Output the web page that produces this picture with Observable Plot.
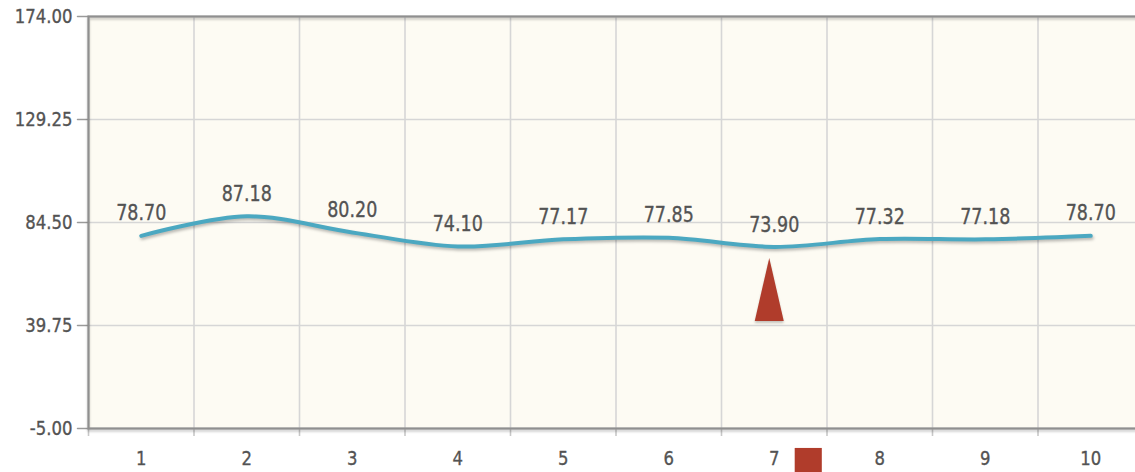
<!DOCTYPE html>
<html>
<head>
<meta charset="utf-8">
<script src="https://cdn.jsdelivr.net/npm/d3@7"></script>
<script src="https://cdn.jsdelivr.net/npm/@observablehq/plot@0.6"></script>
<style>
  html, body { margin: 0; padding: 0; background: #ffffff; overflow: hidden; }
  #chart svg { display: block; overflow: visible; max-width: none !important; }
  .shadow { filter: drop-shadow(1px 2px 1.5px rgba(0,0,0,0.28)); }
  .soft { filter: drop-shadow(0px 2px 1px rgba(0,0,0,0.22)); }
</style>
</head>
<body>
<div id="chart"></div>
<script>
// Readings per period
const periods = [1, 2, 3, 4, 5, 6, 7, 8, 9, 10];
const values = [78.70, 87.18, 80.20, 74.10, 77.17, 77.85, 73.90, 77.32, 77.18, 78.70];

// Y axis tick values
const yTicks = [-5.00, 39.75, 84.50, 129.25, 174.00];

// Period marked by the pointer and the square under the axis
const markedPeriod = [7];

const rows = periods.map((p, i) => ({period: p, value: values[i]}));
const marked = rows.filter(d => markedPeriod.includes(d.period));
const bandEdges = d3.range(periods.length + 1).map(i => periods[0] - 0.5 + i);

const lineColor = "#4ba8c1";
const markColor = "#b03c2b";
const textColor = "#535353";

// A tall, narrow pointer drawn from its base up to its tip
const spike = {
  draw(context, l, r) {
    context.moveTo(-r, 0);
    context.lineTo(0, -l);
    context.lineTo(r, 0);
    context.closePath();
  }
};

const axisText = {fill: textColor, textStroke: textColor, textStrokeWidth: 0.3, textStrokeOpacity: 1};

const chart = Plot.plot({
  width: 1143,
  height: 472,
  marginTop: 16,
  marginLeft: 88,
  marginRight: 0,
  marginBottom: 44,
  style: {fontFamily: "DejaVu Sans, Verdana, sans-serif", fontSize: "16px", color: textColor, background: "#ffffff", maxWidth: "none"},
  x: {type: "linear", domain: [periods[0] - 0.5, periods[periods.length - 1] + 0.5]},
  y: {domain: [yTicks[0], yTicks[yTicks.length - 1]]},
  marks: [
    Plot.frame({fill: "#fdfbf3", stroke: "none"}),
    Plot.gridY(yTicks, {stroke: "#d6d6d6", strokeOpacity: 1, strokeWidth: 1.6}),
    Plot.gridX(bandEdges.slice(1, -1), {stroke: "#d6d6d6", strokeOpacity: 1, strokeWidth: 1.6}),
    // y axis: short tick marks pointing left from the axis line, then labels
    Plot.vector(yTicks, {x: () => bandEdges[0], y: d => d, rotate: -90, length: 11, anchor: "start", shape: "spike", r: 0, stroke: "#9a9a9a", strokeWidth: 1.5}),
    Plot.axisY({ticks: yTicks, tickFormat: d => d.toFixed(2), tickSize: 0, tickPadding: 16, fontSize: 16.5, label: null, ...axisText}),
    // x axis: tick marks at period boundaries, labels at period centres
    Plot.axisX({ticks: bandEdges.slice(0, -1), tickFormat: () => "", tickSize: 8, stroke: "#c8c8c8", strokeWidth: 1.6, label: null}),
    Plot.axisX({ticks: periods, tickFormat: d => String(d), tickSize: 0, tickPadding: 23, fontSize: 16.5, label: null, ...axisText}),
    Plot.frame({stroke: "#8f8f8f", strokeWidth: 2.2, className: "soft"}),
    Plot.line(rows, {x: "period", y: "value", curve: "catmull-rom", stroke: lineColor, strokeWidth: 4, className: "shadow"}),
    Plot.text(rows, {x: "period", y: "value", text: d => d.value.toFixed(2), dy: -22, fontSize: 17.5, fill: textColor, stroke: textColor, strokeWidth: 0.3}),
    Plot.vector(marked, {x: "period", y: "value", anchor: "end", length: 63, r: 14.5, shape: spike, fill: markColor, stroke: "none", dx: -5, dy: 11, className: "soft"}),
    Plot.dot(marked, {x: "period", y: () => yTicks[0], symbol: "square", r: 15.3, fill: markColor, stroke: "none", dx: 34, dy: 33})
  ]
});

// Slightly taller lettering: stretch each label vertically about its anchor
chart.querySelectorAll("text").forEach(t => {
  const tr = t.getAttribute("transform") || "";
  t.setAttribute("transform", `${tr} scale(1,1.18)`.trim());
});

document.getElementById("chart").append(chart);
</script>
</body>
</html>
